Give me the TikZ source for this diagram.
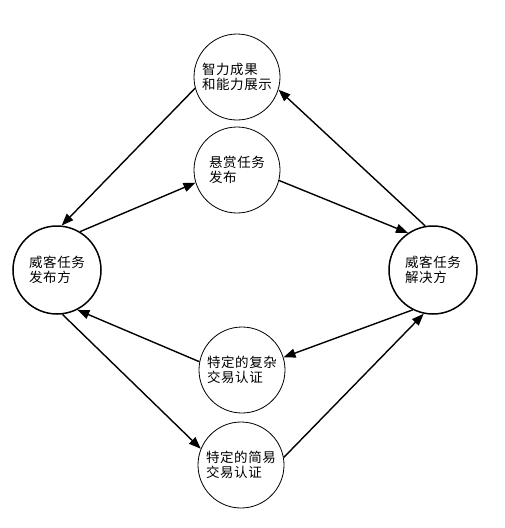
\documentclass[tikz,border=0pt]{standalone}
\usepackage{fontspec}
\newfontfamily\cjk[LetterSpace=4]{Noto Sans CJK SC}
\usetikzlibrary{arrows.meta}

\begin{document}
\begin{tikzpicture}[x=1pt, y=-1pt
        , every path/.style={ line width=1.4pt }
        , every node/.style={ font=\cjk\fontsize{13.5}{15}\selectfont, align=left }
        , small/.style={ draw, circle, line width=.8pt, minimum size=86pt, inner sep=0pt }
        , big/.style={ draw, circle, line width=1.5pt, minimum size=88pt, inner sep=0pt }
        , arr/.style={ -{Triangle[length=12pt,width=9pt]} }
        ]
        \useasboundingbox (0,0) rectangle (504,528);

        % the two parties
        \node[big] (pub) at (57,270) {威客任务\\发布方};
        \node[big] (sol) at (433,270) {威客任务\\解决方};

        % the four stages between them
        \node[small] (show) at (237,77) {智力成果\\和能力展示};
        \node[small] (task) at (237,170) {悬赏任务\\发布};
        \node[small] (hard) at (242,370) {特定的复杂\\交易认证};
        \node[small] (easy) at (241,465) {特定的简易\\交易认证};

        % upper loop
        \draw[arr] (show.195) -- (pub.84);
        \draw[arr] (sol.100) -- (show.343);
        \draw[arr] (pub.59) -- (task.197);
        \draw[arr] (task.346) -- (sol.124);

        % lower loop
        \draw[arr] (sol.243) -- (hard.17);
        \draw[arr] (hard.169) -- (pub.297);
        \draw[arr] (pub.277) -- (easy.158);
        \draw[arr] (easy.10) -- (sol.258);
\end{tikzpicture}
\end{document}
